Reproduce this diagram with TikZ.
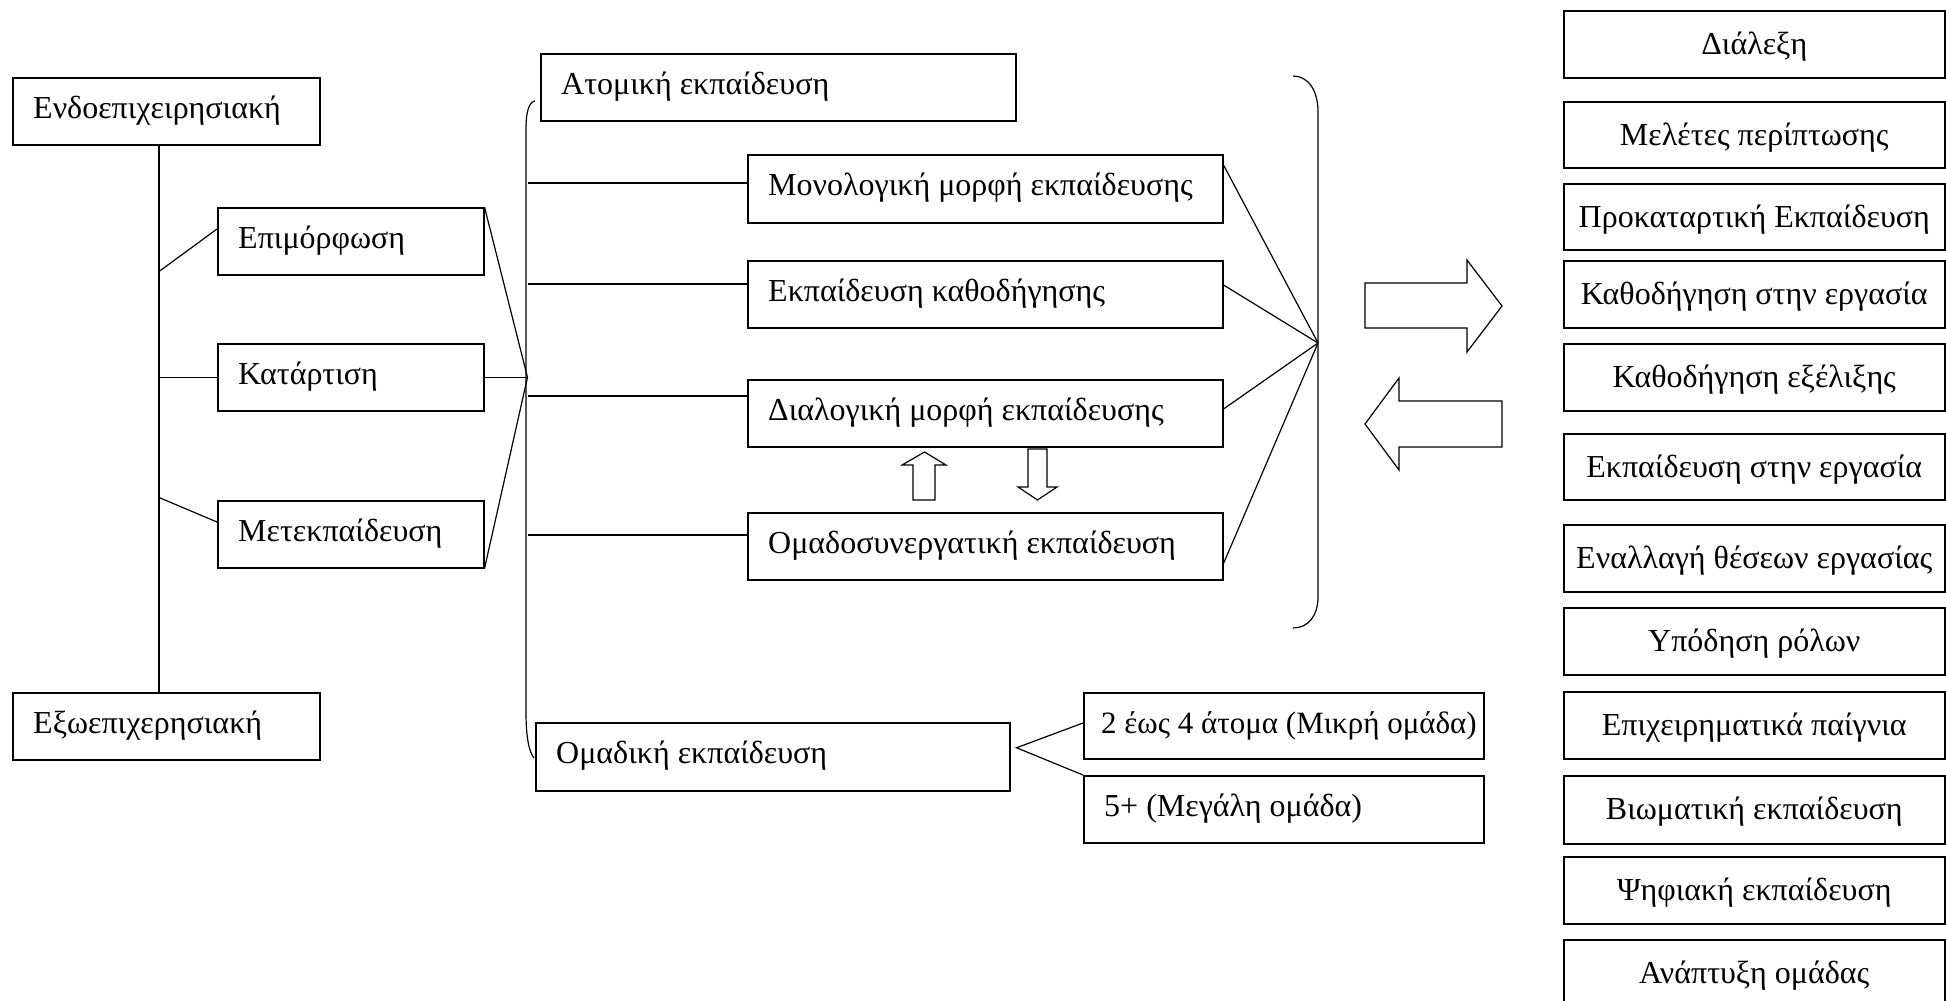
\documentclass[tikz,border=0pt]{standalone}
\usepackage{fontspec}
\setmainfont{Liberation Serif}
\usetikzlibrary{calc}

\tikzset{
  frame/.style={draw, line width=1.5pt, rectangle, inner sep=0pt, anchor=north west},
  lbl/.style={inner sep=0pt, font=\fontsize{32}{37}\selectfont},
  wire/.style={line width=1.2pt},
  blockarrow/.style={draw, line width=1.2pt, fill=white, line join=miter},
}

% box with left-aligned text: name, x, y, width, height, text
\newcommand\tboxleft[6]{%
  \node[frame, minimum width=#4pt, minimum height=#5pt] (#1) at (#2,#3) {};
  \node[lbl, anchor=base west] (#1-text) at ($(#1.north west)+(21,41)$) {#6};
}
% box with centred text
\newcommand\tboxcentre[6]{%
  \node[frame, minimum width=#4pt, minimum height=#5pt] (#1) at (#2,#3) {};
  \node[lbl, anchor=base] (#1-text) at ($(#1.north)+(0,44)$) {#6};
}

\begin{document}
\begin{tikzpicture}[x=1pt,y=-1pt]
\path[use as bounding box, clip] (0,0) rectangle (1946,1001);

% left column
\tboxleft{endo}{12}{77}{307}{67}{Ενδοεπιχειρησιακή}
\tboxleft{epim}{217}{207}{266}{67}{Επιμόρφωση}
\tboxleft{katart}{217}{343}{266}{67}{Κατάρτιση}
\tboxleft{metek}{217}{500}{266}{67}{Μετεκπαίδευση}
\tboxleft{exo}{12}{692}{307}{67}{Εξωεπιχερησιακή}

% middle column
\tboxleft{atomiki}{540}{53}{475}{67}{Ατομική εκπαίδευση}
\tboxleft{mono}{747}{154}{475}{68}{Μονολογική μορφή εκπαίδευσης}
\tboxleft{kath}{747}{260}{475}{67}{Εκπαίδευση καθοδήγησης}
\tboxleft{dial}{747}{379}{475}{67}{Διαλογική μορφή εκπαίδευσης}
\tboxleft{omadosyn}{747}{512}{475}{67}{Ομαδοσυνεργατική εκπαίδευση}
\tboxleft{omadiki}{535}{722}{474}{68}{Ομαδική εκπαίδευση}
% the small-group box holds the longest label, set a touch tighter
\node[frame, minimum width=400pt, minimum height=66pt] (small) at (1083,692) {};
\node[lbl, font=\fontsize{31}{36}\selectfont, anchor=base west] (small-text)
  at ($(small.north west)+(18,41)$) {2 έως 4 άτομα (Μικρή ομάδα)};
\tboxleft{large}{1083}{775}{400}{67}{5+ (Μεγάλη ομάδα)}

% right column of methods
\tboxcentre{m1}{1563}{10}{381}{67}{Διάλεξη}
\tboxcentre{m2}{1563}{101}{381}{66}{Μελέτες περίπτωσης}
\tboxcentre{m3}{1563}{183}{381}{66}{Προκαταρτική Εκπαίδευση}
\tboxcentre{m4}{1563}{260}{381}{67}{Καθοδήγηση στην εργασία}
\tboxcentre{m5}{1563}{343}{381}{67}{Καθοδήγηση εξέλιξης}
\tboxcentre{m6}{1563}{433}{381}{66}{Εκπαίδευση στην εργασία}
\tboxcentre{m7}{1563}{524}{381}{67}{Εναλλαγή θέσεων εργασίας}
\tboxcentre{m8}{1563}{607}{381}{67}{Υπόδηση ρόλων}
\tboxcentre{m9}{1563}{691}{381}{67}{Επιχειρηματικά παίγνια}
\tboxcentre{m10}{1563}{775}{381}{68}{Βιωματική εκπαίδευση}
\tboxcentre{m11}{1563}{856}{381}{67}{Ψηφιακή εκπαίδευση}
\tboxcentre{m12}{1563}{939}{381}{67}{Ανάπτυξη ομάδας}

% trunk between the two outer boxes
\coordinate (trunk-top) at ($(endo.south west)+(147,0)$);
\coordinate (trunk-bot) at ($(exo.north west)+(147,0)$);
\draw[wire] (trunk-top) -- (trunk-bot);
\draw[wire] ($(trunk-top)+(0,126)$) -- ($(epim.north west)+(0,22)$);
\draw[wire] (katart.west -| trunk-top) -- (katart.west);
\draw[wire] ($(trunk-top)+(0,352)$) -- ($(metek.north west)+(0,22)$);

% fan into the left brace
\coordinate (fanL) at ($(katart.east)+(43,0)$);
\draw[wire] (epim.north east) -- (fanL) -- (metek.south east);
\draw[wire] (katart.east) -- (fanL);

% left brace joining individual and group training
\coordinate (braceL-top) at ($(atomiki.north west)+(-5,48)$);
\coordinate (braceL-bot) at ($(omadiki.north west)+(-1,36)$);
\draw[wire] (braceL-top) .. controls (529,102) and (526,112) .. (526,128)
  -- (526,712) .. controls (526,737) and (529,752) .. (braceL-bot);

% branches from the left brace
\draw[wire] ($(mono.north west)+(0,29)$) coordinate (b1) -- (b1 -| fanL);
\draw[wire] ($(kath.north west)+(0,24)$) coordinate (b2) -- (b2 -| fanL);
\draw[wire] ($(dial.north west)+(0,17)$) coordinate (b3) -- (b3 -| fanL);
\draw[wire] ($(omadosyn.north west)+(0,23)$) coordinate (b4) -- (b4 -| fanL);

% right brace and its fan
\coordinate (fanR) at (1318,343);
\coordinate (braceR-top) at (1293,76);
\coordinate (braceR-bot) at (1293,628);
\draw[wire] (braceR-top) .. controls (1308,76) and (1318,90) .. (1318,112)
  -- (1318,597) .. controls (1318,616) and (1308,628) .. (braceR-bot);
\draw[wire] ($(mono.north east)+(0,11)$) -- (fanR);
\draw[wire] ($(kath.north east)+(0,25)$) -- (fanR);
\draw[wire] ($(dial.north east)+(0,30)$) -- (fanR);
\draw[wire] ($(omadosyn.south east)+(0,-17)$) -- (fanR);

% group training split
\coordinate (fanG) at ($(omadiki.east)+(6,-9)$);
\draw[wire] ($(small.north west)+(0,31)$) -- (fanG) -- (large.north west);

% hollow arrows between dialogue and cooperative training
\draw[blockarrow] (913,500) -- (913,465) -- (902,465) -- (924.5,452) -- (946,465)
  -- (935,465) -- (935,500) -- cycle;
\draw[blockarrow] (1028,449) -- (1047,449) -- (1047,487) -- (1057,487)
  -- (1037.5,500) -- (1018,487) -- (1028,487) -- cycle;

% large hollow arrows towards and from the method list
\draw[blockarrow] (1365,283) -- (1467,283) -- (1467,260) -- (1502,306)
  -- (1467,352) -- (1467,328) -- (1365,328) -- cycle;
\draw[blockarrow] (1502,401) -- (1399,401) -- (1399,378) -- (1365,424)
  -- (1399,470) -- (1399,447) -- (1502,447) -- cycle;
\end{tikzpicture}
\end{document}
